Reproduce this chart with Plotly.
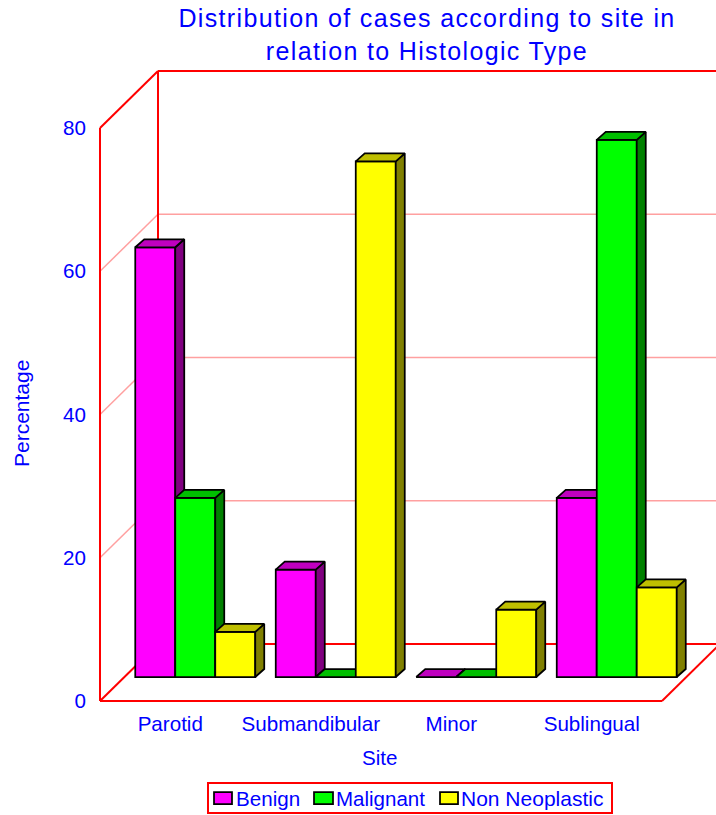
import plotly.graph_objects as go

categories = ["Parotid", "Submandibular", "Minor", "Sublingual"]
benign = [60, 15, 0, 25]
malignant = [25, 0, 0, 75]
non_neoplastic = [6.3, 72, 9.4, 12.5]
y_ticks = [0, 20, 40, 60, 80]

series = [
    ("Benign", benign, "#FF00FF", "#BF00BF", "#800080"),
    ("Malignant", malignant, "#00FF00", "#00BF00", "#008000"),
    ("Non Neoplastic", non_neoplastic, "#FFFF00", "#BFBF00", "#808000"),
]

BLUE = "#0000FF"
RED = "#FF0000"
FONT = "Liberation Sans, Arial, sans-serif"
PX_X = 140.5
PX_Y = 7.1625
DX, DY = 58 / PX_X, 57 / PX_Y          # wall depth
SX, SY = 25 / PX_X, 24 / PX_Y          # bar shift into the box
BX, BY = 9 / PX_X, 8 / PX_Y            # bar depth
BW = 40 / PX_X
X0, X1 = -0.5, 3.5
Y_MAX = 80
EDGE = dict(color="black", width=1.75)

fig = go.Figure()
for k, (name, vals, front, top, side) in enumerate(series):
    yaxis = "y" if k == 0 else f"y{k + 1}"
    xs = [i + (k - 1) * BW + SX for i in range(len(vals))]
    fig.add_trace(go.Bar(
        x=xs, y=vals, base=[SY] * len(vals), width=BW, name=name, yaxis=yaxis,
        showlegend=False, marker=dict(color=front, line=EDGE),
    ))
    for x, v in zip(xs, vals):
        l, r, b, t = x - BW / 2, x + BW / 2, SY, SY + v
        fig.add_trace(go.Scatter(
            x=[r, r + BX, r + BX, r, r], y=[b, b + BY, t + BY, t, b], yaxis=yaxis,
            mode="lines", fill="toself", fillcolor=side, showlegend=False, hoverinfo="skip",
            line=EDGE,
        ))
        fig.add_trace(go.Scatter(
            x=[l, r, r + BX, l + BX, l], y=[t, t, t + BY, t + BY, t], yaxis=yaxis,
            mode="lines", fill="toself", fillcolor=top, showlegend=False, hoverinfo="skip",
            line=EDGE,
        ))

def wall(x0, y0, x1, y1, **line):
    fig.add_shape(type="line", xref="x", yref="y", x0=x0, y0=y0, x1=x1, y1=y1,
                  layer="below", line=line)

for t in y_ticks[1:-1]:
    grid = dict(color="#FFA0A0", width=1.5)
    wall(X0, t, X0 + DX, t + DY, **grid)
    wall(X0 + DX, t + DY, X1 + DX, t + DY, **grid)
solid = dict(color=RED, width=2)
wall(X0, 0, X0, Y_MAX, **solid)
wall(X0, 0, X1, 0, **solid)
wall(X0, 0, X0 + DX, DY, **solid)
wall(X1, 0, X1 + DX, DY, **solid)
wall(X0 + DX, DY, X1 + DX, DY, **solid)
wall(X0, Y_MAX, X0 + DX, Y_MAX + DY, **solid)
wall(X0 + DX, DY, X0 + DX, Y_MAX + DY, **solid)
wall(X0 + DX, Y_MAX + DY, X1 + DX, Y_MAX + DY, **solid)

# page pixel -> paper fraction (plot area spans 98..716 by 69..703)
def px(x):
    return (x - 98) / 618
def py(y):
    return (703 - y) / 634

def label(text, x, y, size=20.6, angle=0, anchor="center"):
    fig.add_annotation(text=text, xref="paper", yref="paper", x=px(x), y=py(y), showarrow=False,
                       xanchor=anchor, yanchor="middle", textangle=angle,
                       font=dict(size=size, color=BLUE))

label("Site", 380, 757)
label("Percentage", 22, 414, size=21, angle=-90)

# legend box and entries
fig.add_shape(type="rect", xref="paper", yref="paper", x0=px(208), x1=px(612), y0=py(813), y1=py(783),
              line=dict(color=RED, width=2), fillcolor="white")
legend_swatch_x = [(214, 232), (314, 333), (440, 458)]
legend_text_x = [234, 334, 459]
legend_text_size = [20.6, 20.5, 21]
for (name, _, front, _, _), (a, b), tx, fs in zip(series, legend_swatch_x, legend_text_x, legend_text_size):
    fig.add_shape(type="rect", xref="paper", yref="paper", x0=px(a), x1=px(b), y0=py(804), y1=py(792),
                  line=EDGE, fillcolor=front)
    label(name, tx, 798, size=fs, anchor="left")

y_range = [-2 / PX_Y, Y_MAX + DY + 2 / PX_Y]
fig.update_layout(
    width=716, height=815, autosize=False,
    margin=dict(l=98, r=0, t=69, b=112),
    paper_bgcolor="white", plot_bgcolor="white",
    barmode="overlay", font=dict(family=FONT, color=BLUE, size=20.6),
    title=dict(text="Distribution of cases according to site in<br>relation to Histologic Type",
               xref="container", yref="container", x=427 / 716, xanchor="center",
               y=1 - 27 / 815, yanchor="top", font=dict(size=25, color=BLUE)),
    xaxis=dict(range=[X0 - 2 / PX_X, X0 + 616 / PX_X], tickvals=list(range(len(categories))), ticktext=categories,
               showgrid=False, zeroline=False, showline=False, ticks="outside", ticklen=2,
               tickcolor="rgba(0,0,0,0)"),
    yaxis=dict(range=y_range, tickvals=y_ticks, showgrid=False, zeroline=False, showline=False,
               ticks="outside", ticklen=7, tickcolor="rgba(0,0,0,0)"),
    yaxis2=dict(range=y_range, overlaying="y", visible=False),
    yaxis3=dict(range=y_range, overlaying="y", visible=False),
    showlegend=False,
)
page_css = (
    "document.body.style.margin='0';"
    "var s=document.createElement('style');"
    "s.textContent='.gtitle{letter-spacing:1.35px}';"
    "document.head.appendChild(s);"
)
fig.write_html("out.html", post_script=page_css, config={"displayModeBar": False})
